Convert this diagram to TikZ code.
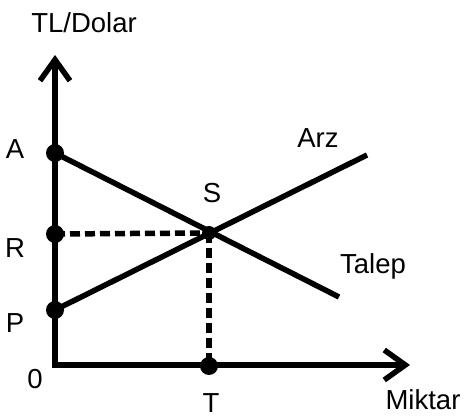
\documentclass[tikz,border=0pt]{standalone}
\usepackage{fontspec}
\setmainfont{Liberation Sans}
\usetikzlibrary{arrows.meta}
\begin{document}
\begin{tikzpicture}[x=1pt,y=-1pt,
  axis/.style={line width=6pt,-{Straight Barb[length=21pt,width=30pt,line width=5.5pt]}},
  curve/.style={line width=5.5pt},
  guide/.style={line width=5.5pt,dash pattern=on 10pt off 5pt},
  dot/.style={circle,fill=black,inner sep=0pt,minimum size=18pt},
  lbl/.style={font=\fontsize{27.5}{30}\selectfont,inner sep=0pt}]
\useasboundingbox (0,0) rectangle (464,419);
\coordinate (O) at (55,365);
\coordinate (Ytip) at (55,55);
\coordinate (Xtip) at (410,365);
\coordinate (Arzend) at (367,155);
\coordinate (Talepend) at (339,297);
\node[dot] (A) at (55,153) {};
\node[dot] (R) at (55,234) {};
\node[dot] (P) at (55,310) {};
\node[dot] (T) at (209,366) {};
\coordinate (S) at (209,233);
\draw[axis] ([xshift=-3pt]O) -- (Xtip);
\draw[axis] ([yshift=3pt]O) -- (Ytip);
\draw[guide] (R.center) -- (S);
\draw[guide] (S) -- (T.center);
\draw[curve] (P.center) -- (Arzend);
\draw[curve] (A.center) -- (Talepend);
\node[dot,minimum size=14pt] (Sdot) at (S) {};
\node[lbl] (ylab) at (84,23) {TL/Dolar};
\node[lbl] (lA) at (15,149) {A};
\node[lbl] (lR) at (15,248) {R};
\node[lbl] (lP) at (15,323) {P};
\node[lbl] (l0) at (35,379) {0};
\node[lbl] (lT) at (211,403) {T};
\node[lbl] (lS) at (212,193) {S};
\node[lbl] (lArz) at (318,138) {Arz};
\node[lbl] (lTalep) at (373,266) {Talep};
\node[lbl] (xlab) at (423,400) {Miktar};
\end{tikzpicture}
\end{document}
